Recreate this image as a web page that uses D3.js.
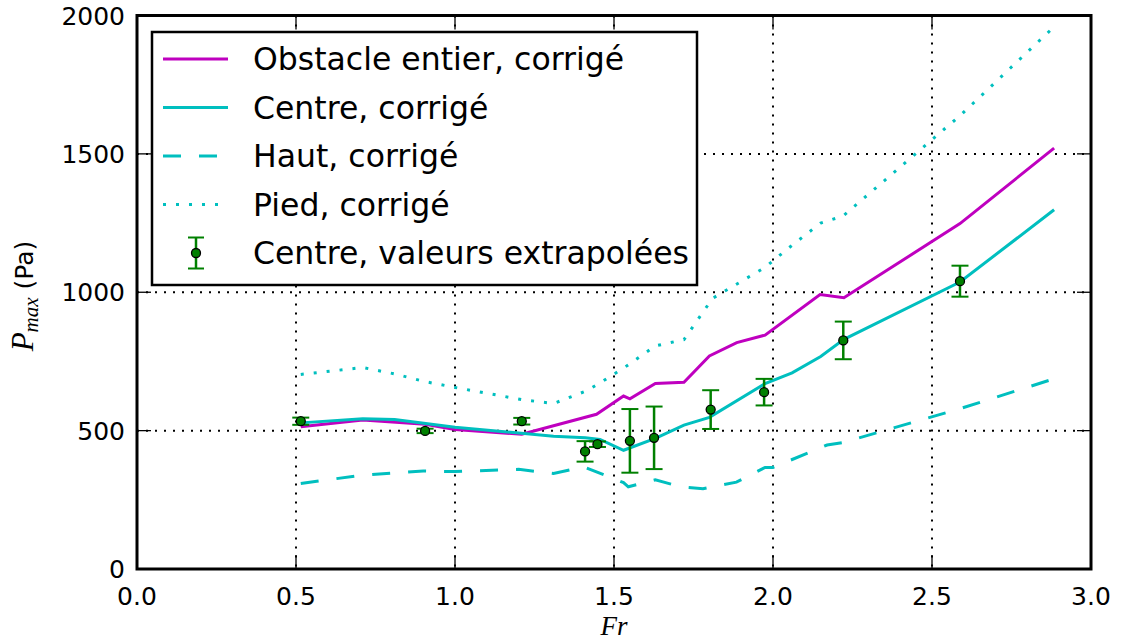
<!DOCTYPE html>
<html>
<head>
<meta charset="utf-8">
<script src="https://cdn.jsdelivr.net/npm/d3@7"></script>
<style>
  body { margin: 0; background: #fff; }
</style>
</head>
<body>
<script>
// values
const obstacleFr = [0.515, 0.71, 0.906, 1.0, 1.21, 1.445, 1.53, 1.55, 1.63, 1.72, 1.80, 1.886, 1.975, 2.148, 2.223, 2.588, 2.884];
const obstacleP = [514, 538, 523, 504, 487, 559, 625, 615, 670, 675, 770, 818, 845, 992, 980, 1248, 1521];

const centreFr = [0.515, 0.71, 0.81, 1.0, 1.31, 1.41, 1.456, 1.53, 1.63, 1.72, 1.80, 1.975, 2.06, 2.15, 2.223, 2.588, 2.884];
const centreP = [528, 543, 540, 512, 480, 474, 468, 429, 472, 520, 548, 670, 709, 768, 830, 1037, 1298];

const hautFr = [0.515, 0.70, 0.90, 1.0, 1.2, 1.31, 1.405, 1.53, 1.545, 1.63, 1.71, 1.78, 1.885, 1.975, 2.0, 2.17, 2.22, 2.59, 2.88];
const hautP = [309, 338, 354, 352, 360, 345, 369, 312, 297, 322, 297, 290, 314, 367, 367, 448, 457, 580, 686];

const piedFr = [0.515, 0.71, 0.81, 0.906, 1.0, 1.21, 1.31, 1.41, 1.45, 1.53, 1.63, 1.72, 1.81, 1.975, 2.06, 2.15, 2.22, 2.59, 2.88];
const piedP = [703, 728, 705, 677, 656, 612, 598, 642, 668, 726, 806, 829, 978, 1090, 1170, 1250, 1275, 1640, 1955];

const errFr = [0.515, 0.906, 1.21, 1.409, 1.448, 1.55, 1.626, 1.804, 1.972, 2.221, 2.588];
const errP = [534, 499, 534, 425, 451, 463, 474, 576, 639, 826, 1040];
const errD = [13, 8, 12, 37, 10, 115, 113, 70, 48, 68, 56];

const xTicks = [0, 0.5, 1.0, 1.5, 2.0, 2.5, 3.0];
const yTicks = [0, 500, 1000, 1500, 2000];
const legendLabels = ["Obstacle entier, corrigé", "Centre, corrigé", "Haut, corrigé", "Pied, corrigé", "Centre, valeurs extrapolées"];

const W = 1121, H = 641;
const mLeft = 137, mRight = 1091, mTop = 15.5, mBottom = 569;
const sans = "'DejaVu Sans', sans-serif";
const serif = "'Liberation Serif', 'DejaVu Serif', serif";

const svg = d3.select("body").append("svg")
    .attr("width", W)
    .attr("height", H)
    .style("font-family", sans);

const x = d3.scaleLinear().domain([0, 3]).range([mLeft, mRight]);
const y = d3.scaleLinear().domain([0, 2000]).range([mBottom, mTop]);

// grid
svg.append("g")
    .selectAll("line")
    .data(xTicks.slice(1, -1))
    .join("line")
    .attr("x1", d => x(d)).attr("x2", d => x(d))
    .attr("y1", mTop).attr("y2", mBottom)
    .attr("stroke", "#000").attr("stroke-width", 2)
    .attr("stroke-dasharray", "2,7");

svg.append("g")
    .selectAll("line")
    .data(yTicks.slice(1, -1))
    .join("line")
    .attr("x1", mLeft).attr("x2", mRight)
    .attr("y1", d => y(d)).attr("y2", d => y(d))
    .attr("stroke", "#000").attr("stroke-width", 2)
    .attr("stroke-dasharray", "2,7");

const line = d3.line().x(d => x(d[0])).y(d => y(d[1]));

const series = [
    { fr: obstacleFr, p: obstacleP, color: "#bf00bf", dash: null },
    { fr: centreFr, p: centreP, color: "#00bfbf", dash: null },
    { fr: hautFr, p: hautP, color: "#00bfbf", dash: "18,18" },
    { fr: piedFr, p: piedP, color: "#00bfbf", dash: "3,10" }
];

series.forEach(s => {
    svg.append("path")
        .datum(d3.zip(s.fr, s.p))
        .attr("d", line)
        .attr("fill", "none")
        .attr("stroke", s.color)
        .attr("stroke-width", 3)
        .attr("stroke-dasharray", s.dash);
});

// error bars
const errData = errFr.map((f, i) => ({ fr: f, p: errP[i], d: errD[i] }));
const eb = svg.append("g").selectAll("g").data(errData).join("g");
eb.append("line")
    .attr("x1", d => x(d.fr)).attr("x2", d => x(d.fr))
    .attr("y1", d => y(d.p - d.d)).attr("y2", d => y(d.p + d.d))
    .attr("stroke", "#008000").attr("stroke-width", 2.5);
[-1, 1].forEach(sgn => {
    eb.append("line")
        .attr("x1", d => x(d.fr) - 8.5).attr("x2", d => x(d.fr) + 8.5)
        .attr("y1", d => y(d.p + sgn * d.d)).attr("y2", d => y(d.p + sgn * d.d))
        .attr("stroke", "#008000").attr("stroke-width", 2);
});
eb.append("circle")
    .attr("cx", d => x(d.fr)).attr("cy", d => y(d.p))
    .attr("r", 4.5)
    .attr("fill", "#008000").attr("stroke", "#000").attr("stroke-width", 1.3);

// ticks (inward, on all four sides)
const tickLen = 14;
const ticks = svg.append("g").attr("stroke", "#000").attr("stroke-width", 1.3);
xTicks.forEach(t => {
    ticks.append("line").attr("x1", x(t)).attr("x2", x(t)).attr("y1", mBottom).attr("y2", mBottom - tickLen);
    ticks.append("line").attr("x1", x(t)).attr("x2", x(t)).attr("y1", mTop).attr("y2", mTop + tickLen);
});
yTicks.forEach(t => {
    ticks.append("line").attr("x1", mLeft).attr("x2", mLeft + tickLen).attr("y1", y(t)).attr("y2", y(t));
    ticks.append("line").attr("x1", mRight).attr("x2", mRight - tickLen).attr("y1", y(t)).attr("y2", y(t));
});

// tick labels
svg.append("g").selectAll("text")
    .data(xTicks)
    .join("text")
    .attr("x", d => x(d))
    .attr("y", 605)
    .attr("text-anchor", "middle")
    .attr("font-size", 25)
    .text(d => d.toFixed(1));

svg.append("g").selectAll("text")
    .data(yTicks)
    .join("text")
    .attr("x", 125)
    .attr("y", d => y(d) + 9)
    .attr("text-anchor", "end")
    .attr("font-size", 25)
    .text(d => d);

// frame
svg.append("rect")
    .attr("x", mLeft).attr("y", mTop)
    .attr("width", mRight - mLeft).attr("height", mBottom - mTop)
    .attr("fill", "none").attr("stroke", "#000").attr("stroke-width", 3);

// axis labels
svg.append("text")
    .attr("x", x(1.5))
    .attr("y", 635)
    .attr("text-anchor", "middle")
    .style("font-family", serif)
    .style("font-style", "italic")
    .attr("font-size", 27)
    .text("Fr");

const yl = svg.append("text")
    .attr("transform", "translate(33,296) rotate(-90)")
    .attr("text-anchor", "middle");
yl.append("tspan")
    .style("font-family", serif).style("font-style", "italic").attr("font-size", 31)
    .text("P");
yl.append("tspan")
    .style("font-family", serif).style("font-style", "italic").attr("font-size", 21)
    .attr("dy", 5)
    .text("max");
yl.append("tspan")
    .attr("font-size", 25)
    .attr("dy", -5)
    .text(" (Pa)");

// legend
const lg = svg.append("g");
lg.append("rect")
    .attr("x", 152).attr("y", 32)
    .attr("width", 545).attr("height", 253)
    .attr("fill", "#fff").attr("stroke", "#000").attr("stroke-width", 2.5);

const rowY = d3.scaleLinear().domain([0, 4]).range([59, 253]);
series.forEach((s, i) => {
    lg.append("line")
        .attr("x1", 163).attr("x2", 228)
        .attr("y1", rowY(i)).attr("y2", rowY(i))
        .attr("stroke", s.color).attr("stroke-width", 3)
        .attr("stroke-dasharray", s.dash);
});
const ly = rowY(4);
lg.append("line").attr("x1", 196).attr("x2", 196).attr("y1", ly - 15.5).attr("y2", ly + 15.5)
    .attr("stroke", "#008000").attr("stroke-width", 2.5);
[-15.5, 15.5].forEach(o => {
    lg.append("line").attr("x1", 188).attr("x2", 204).attr("y1", ly + o).attr("y2", ly + o)
        .attr("stroke", "#008000").attr("stroke-width", 2);
});
lg.append("circle").attr("cx", 196).attr("cy", ly).attr("r", 4.5)
    .attr("fill", "#008000").attr("stroke", "#000").attr("stroke-width", 1.3);

lg.selectAll("text.lab")
    .data(legendLabels)
    .join("text")
    .attr("class", "lab")
    .attr("x", 253)
    .attr("y", (d, i) => rowY(i) + 11)
    .attr("font-size", 31.5)
    .text(d => d);
</script>
</body>
</html>
